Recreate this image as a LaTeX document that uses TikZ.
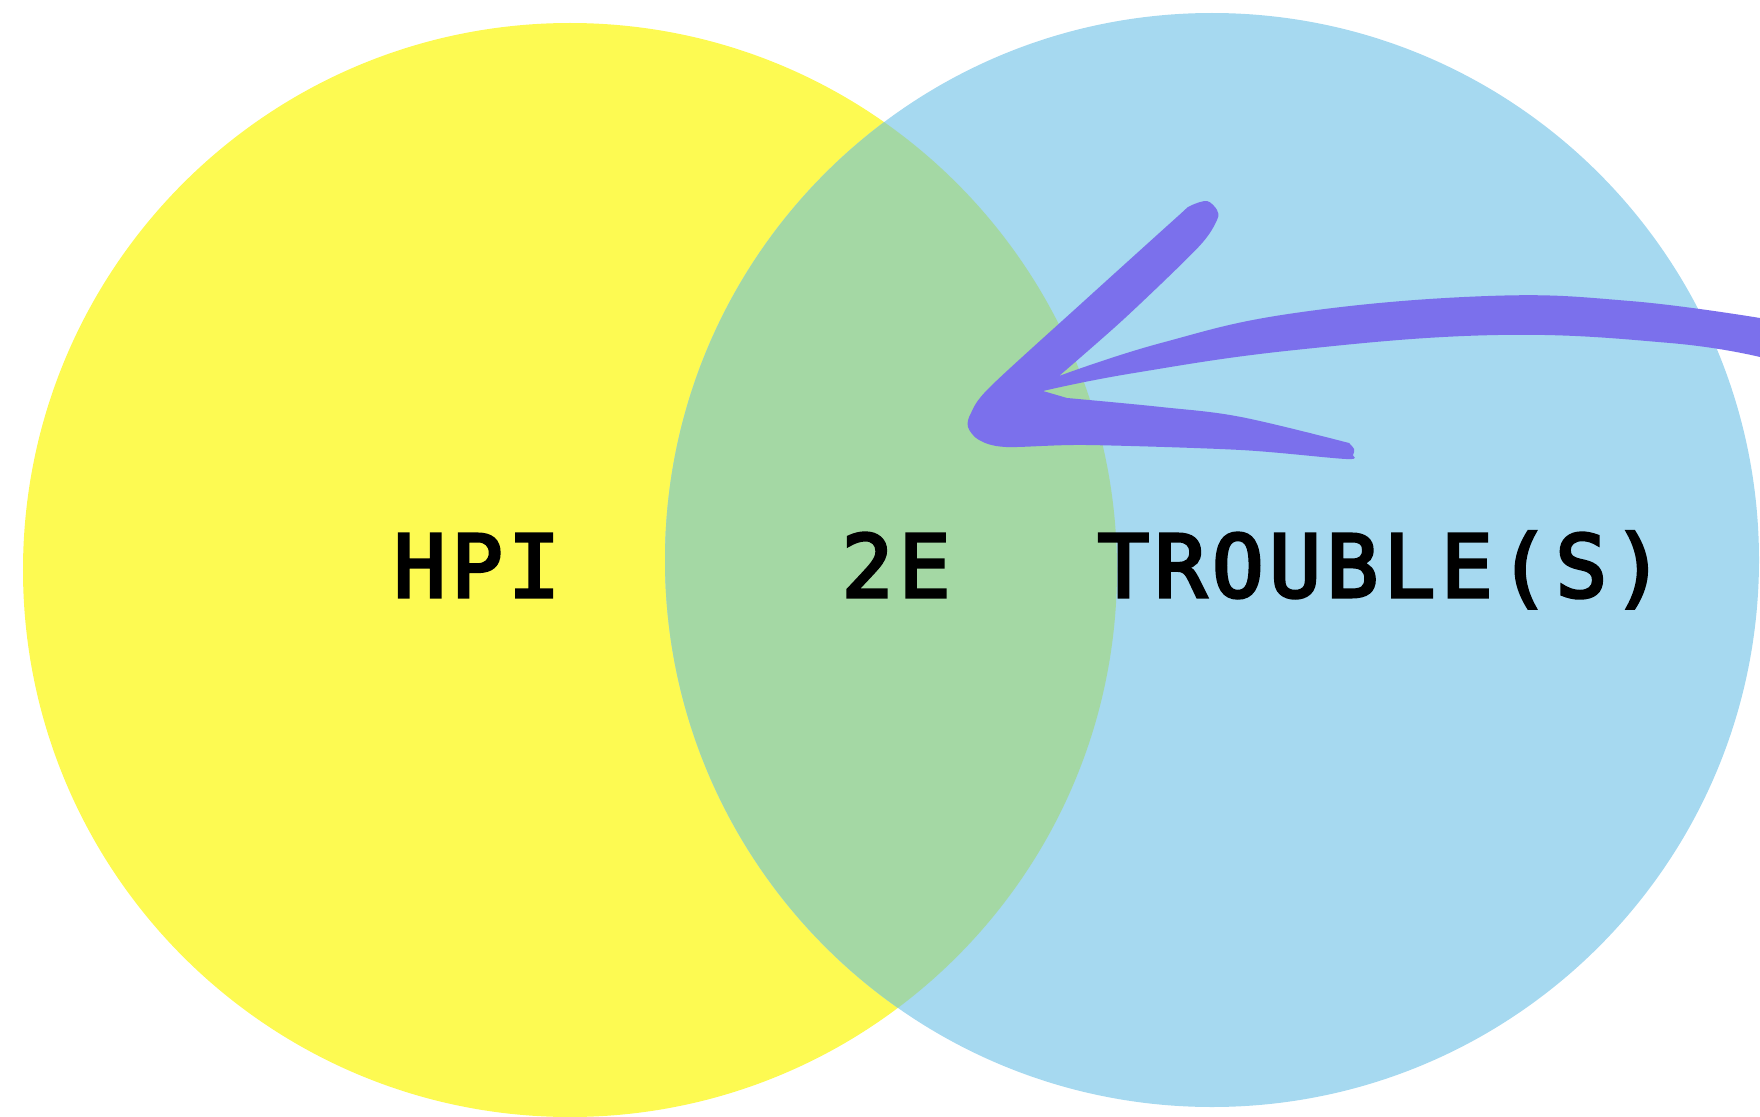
\documentclass[tikz,border=0pt]{standalone}
\usepackage{fontspec}
\newfontfamily\vennfont{DejaVu Sans Mono}[LetterSpace=6,FakeBold=3.5]
\definecolor{vennyellow}{HTML}{FDFA52}
\definecolor{vennblue}{HTML}{A6D9F0}
\definecolor{venngreen}{HTML}{A4D8A4}
\definecolor{arrowpurple}{HTML}{7B70EC}
\tikzset{
  setlabel/.style={font=\vennfont\fontsize{24.6}{30}\selectfont, inner sep=0pt, anchor=base},
}
\begin{document}
\begin{tikzpicture}
\useasboundingbox (0,0) rectangle (17.6,11.16);
%\draw[step=1cm,gray,very thin] (0,0) grid (17.6,11.16);
%.............................
\fill[vennyellow] (5.70,5.46) circle (5.47);
\fill[vennblue] (12.12,5.56) circle (5.47);
\begin{scope}
\clip (5.70,5.46) circle (5.47);
\fill[venngreen] (12.12,5.56) circle (5.47);
\end{scope}
%.............................
\node[setlabel] (hpi) at (4.77,5.19) {HPI};
\node[setlabel] (twoe) at (8.96,5.19) {2E};
\node[setlabel] (trouble) at (13.81,5.19) {TROUBLE(S)};
%.............................
\fill[arrowpurple]
  plot[smooth,tension=0.7] coordinates {(17.60,7.98) (16.30,8.15) (14.88,8.20) (12.95,8.03) (11.61,7.73) (10.59,7.40)}
  -- plot[smooth,tension=0.5] coordinates {(10.59,7.40) (11.25,7.98) (11.985,8.69) (12.17,8.96) (12.17,9.06) (12.07,9.15) (11.90,9.10) (11.77,8.99) (10.83,8.14) (9.90,7.29) (9.71,7.03) (9.68,6.89) (9.79,6.76) (10.06,6.69) (10.86,6.71) (12.41,6.66) (13.46,6.57) (13.53,6.61) (13.54,6.67) (13.49,6.73)}
  -- plot[smooth,tension=0.6] coordinates {(13.49,6.73) (12.41,6.99) (11.61,7.09) (10.67,7.18)}
  -- plot[smooth,tension=0.7] coordinates {(10.43,7.25) (11.34,7.43) (12.95,7.66) (14.98,7.81) (16.70,7.73) (17.60,7.59)}
  -- cycle;
\end{tikzpicture}
\end{document}
